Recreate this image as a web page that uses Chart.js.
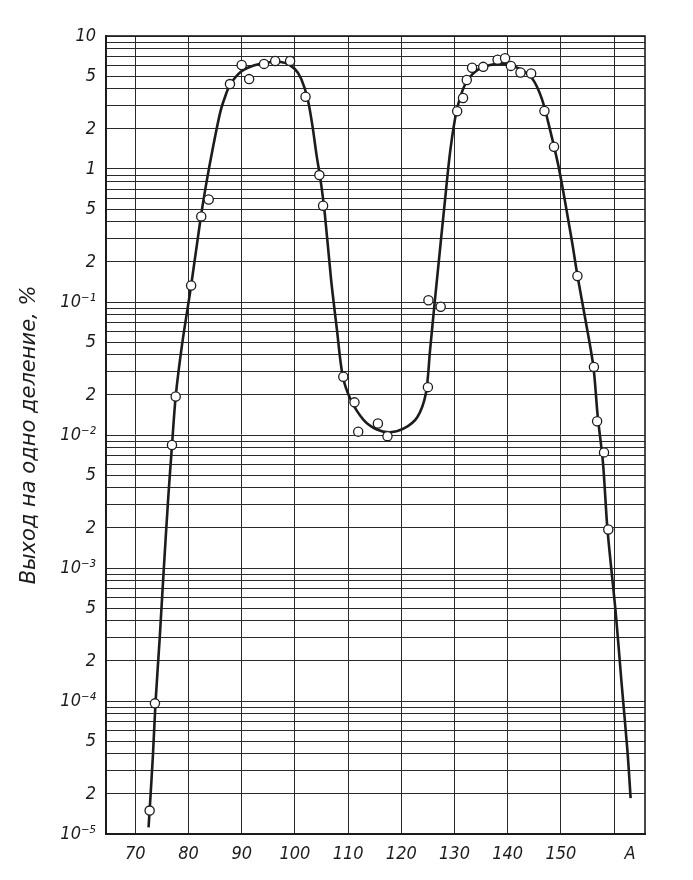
<!DOCTYPE html>
<html>
<head>
<meta charset="utf-8">
<script src="https://cdn.jsdelivr.net/npm/chart.js@4.4.1/dist/chart.umd.min.js"></script>
<style>
  html, body { margin: 0; padding: 0; background: #fff; }
  #wrap { width: 693px; height: 880px; }
</style>
</head>
<body>
<div id="wrap"><canvas id="myChart"></canvas></div>
<script>
// measured points: mass number A and yield per division, %
var pointA = [72.7, 73.7, 76.9, 77.6, 80.5, 82.4, 83.8, 87.8, 90.0, 91.4, 94.2, 96.3, 99.1,
  102.0, 104.6, 105.3, 109.1, 111.2, 111.9, 115.6, 117.4, 125.0, 125.1, 127.4,
  130.5, 131.6, 132.3, 133.3, 135.4, 138.1, 139.5, 140.6, 142.4, 144.4, 146.9, 148.7,
  153.1, 156.2, 156.8, 158.1, 158.9];
var pointYield = [1.5e-5, 9.6e-5, 0.0084, 0.0195, 0.133, 0.44, 0.59, 4.35, 6.05, 4.74, 6.17, 6.48, 6.5,
  3.49, 0.90, 0.53, 0.0274, 0.0176, 0.0106, 0.0122, 0.0098, 0.0229, 0.103, 0.092,
  2.72, 3.42, 4.67, 5.77, 5.86, 6.64, 6.81, 5.96, 5.32, 5.22, 2.73, 1.47,
  0.157, 0.0325, 0.0127, 0.0074, 0.00195];

// the smooth curve, read along its length
var curveA = [72.5, 73.3, 73.8, 74.6, 75.3, 76.2, 76.9, 77.6, 78.8, 80.5,
  82.3, 83.3, 84.7, 86.0, 86.9, 87.8, 89.9, 92.4, 95.6, 98.1, 100.0,
  101.2, 102.4, 103.3, 104.1, 104.8, 105.6, 106.8, 107.9, 109.0, 110.5,
  112.9, 115.4, 117.9, 120.5, 123.0, 124.6, 125.4, 126.3, 127.25, 128.2,
  129.2, 130.4, 132.0, 134.0, 136.5, 139.6, 142.1, 144.6, 146.4, 147.9,
  149.7, 152.1, 153.1, 154.7, 156.1, 156.9, 157.9, 158.75, 160.3, 161.4,
  162.5, 163.1];
var curveYield = [1.12e-5, 3.77e-5, 9.6e-5, 3.0e-4, 8.95e-4, 3.39e-3, 8.3e-3, 0.0195, 0.048, 0.133,
  0.43, 0.76, 1.52, 2.70, 3.51, 4.29, 5.40, 6.03, 6.38, 6.28, 5.65,
  4.75, 3.36, 2.11, 1.25, 0.84, 0.47, 0.148, 0.062, 0.0276, 0.0184,
  0.0130, 0.0110, 0.0105, 0.0112, 0.0136, 0.0204, 0.0432, 0.102, 0.243, 0.577,
  1.37, 2.74, 4.34, 5.44, 6.03, 6.14, 5.70, 4.79, 3.38, 2.01,
  0.975, 0.281, 0.158, 0.0702, 0.0327, 0.0140, 0.0062, 0.00194, 4.59e-4, 1.36e-4,
  4.21e-5, 1.86e-5];

var xTickValues = [70, 80, 90, 100, 110, 120, 130, 140, 150, 160, 163];
var xTickLabels = ['70', '80', '90', '100', '110', '120', '130', '140', '150', '', 'A'];

var yLabelValues = [1e-5, 2e-5, 5e-5, 1e-4, 2e-4, 5e-4, 1e-3, 2e-3, 5e-3, 1e-2, 2e-2, 5e-2,
  1e-1, 2e-1, 5e-1, 1, 2, 5, 10];
var yLabelTexts = ['10⁻⁵', '2', '5', '10⁻⁴', '2', '5', '10⁻³', '2', '5', '10⁻²', '2', '5',
  '10⁻¹', '2', '5', '1', '2', '5', '10'];

// log paper: a line at every 1..9 of each decade
var yGridValues = [];
for (var e = -5; e <= 0; e++) {
  for (var m = 1; m <= 9; m++) yGridValues.push(m * Math.pow(10, e));
}
yGridValues.push(10);

var fontFamily = "'DejaVu Sans Condensed', 'Liberation Sans Narrow', 'DejaVu Sans', sans-serif";
var ink = '#1c1c1c';

var framePlugin = {
  id: 'frame',
  beforeDatasetsDraw: function (chart) {
    var a = chart.chartArea;
    var ctx = chart.ctx;
    ctx.save();
    ctx.strokeStyle = ink;
    ctx.lineWidth = 1.6;
    ctx.strokeRect(a.left, a.top, a.right - a.left, a.bottom - a.top);
    ctx.restore();
  }
};

var ctx = document.getElementById('myChart').getContext('2d');
var myChart = new Chart(ctx, {
  type: 'line',
  data: {
    datasets: [
      {
        label: 'points',
        data: pointA.map(function (a, i) { return { x: a, y: pointYield[i] }; }),
        showLine: false,
        pointRadius: 4.6,
        pointBackgroundColor: '#fff',
        pointBorderColor: ink,
        pointBorderWidth: 1.3
      },
      {
        label: 'curve',
        data: curveA.map(function (a, i) { return { x: a, y: curveYield[i] }; }),
        borderColor: ink,
        borderWidth: 2.6,
        pointRadius: 0,
        tension: 0.3
      }
    ]
  },
  options: {
    responsive: true,
    maintainAspectRatio: false,
    animation: false,
    layout: { padding: { top: 36, right: 48, left: 0, bottom: 0 } },
    plugins: {
      legend: { display: false },
      tooltip: { enabled: false }
    },
    scales: {
      x: {
        type: 'linear',
        min: 64.5,
        max: 165.8,
        afterFit: function (scale) { scale.height = 46; },
        afterBuildTicks: function (scale) {
          scale.ticks = xTickValues.map(function (v) { return { value: v }; });
        },
        border: { color: ink, width: 2 },
        grid: {
          drawTicks: false,
          lineWidth: 1,
          color: function (c) { return c.tick && c.tick.value === 163 ? 'rgba(0,0,0,0)' : '#2a2a2a'; }
        },
        ticks: {
          autoSkip: false,
          maxRotation: 0,
          padding: 10,
          color: ink,
          font: { family: fontFamily, size: 18, style: 'italic' },
          callback: function (v) {
            var i = xTickValues.indexOf(v);
            return i >= 0 ? xTickLabels[i] : '';
          }
        }
      },
      y: {
        type: 'logarithmic',
        min: 1e-5,
        max: 10,
        afterFit: function (scale) { scale.width = 106; },
        afterBuildTicks: function (scale) {
          scale.ticks = yGridValues.map(function (v) { return { value: v }; });
        },
        border: { color: ink, width: 2 },
        grid: { drawTicks: false, lineWidth: 1, color: '#2a2a2a' },
        ticks: {
          autoSkip: false,
          padding: 10,
          color: ink,
          font: { family: fontFamily, size: 18, style: 'italic' },
          callback: function (v) {
            for (var i = 0; i < yLabelValues.length; i++) {
              if (Math.abs(v / yLabelValues[i] - 1) < 1e-6) return yLabelTexts[i];
            }
            return '';
          }
        },
        title: {
          display: true,
          text: 'Выход на одно деление, %',
          color: ink,
          padding: { top: 17, bottom: 0 },
          font: { family: "'DejaVu Sans', sans-serif", size: 21, style: 'italic' }
        }
      }
    }
  },
  plugins: [framePlugin]
});
</script>
</body>
</html>
